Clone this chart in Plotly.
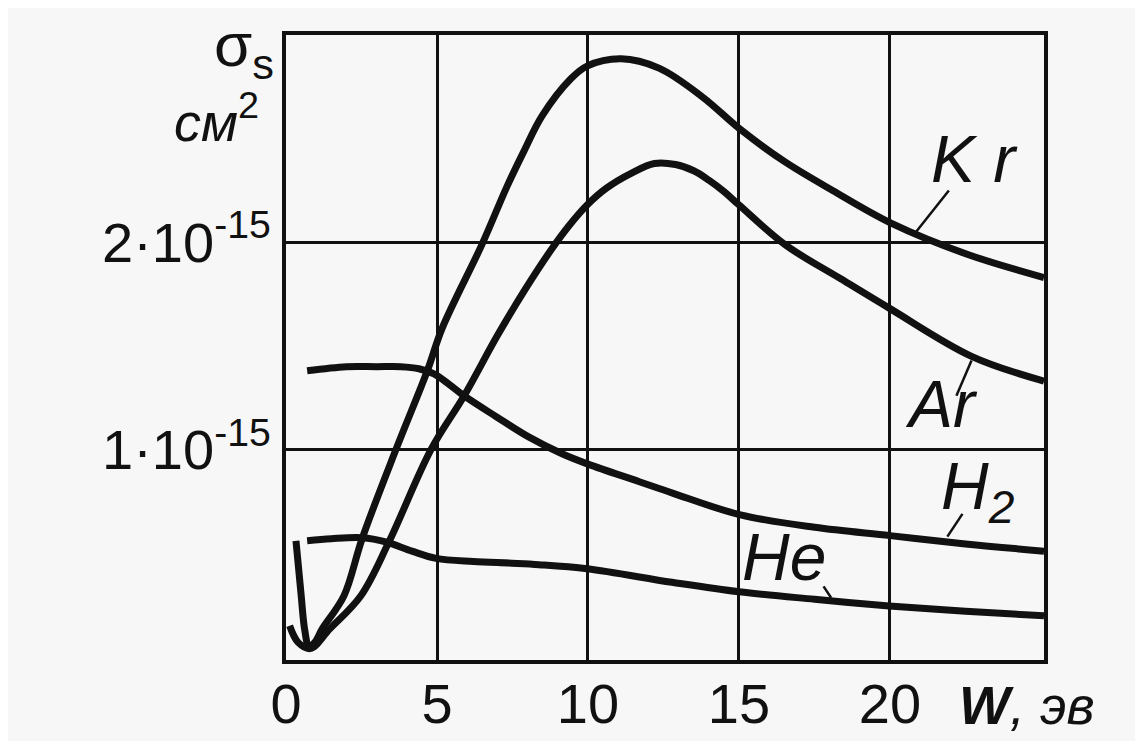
import plotly.graph_objects as go

# ---- data (energy W in eV, cross-section sigma_s in units of 1e-15 cm^2) ----
kr_w = [0.33, 0.5, 0.62, 0.76, 0.95, 1.2, 1.92, 2.52, 3.64, 4.68, 5.17, 6.49, 7.32, 7.88,
        8.48, 9.44, 9.97, 11.1, 12.35, 13.8, 15.0, 16.5, 18.1, 20.07, 22.6, 25.1]
kr_s = [0.56, 0.30, 0.13, 0.05, 0.07, 0.135, 0.295, 0.57, 1.0, 1.38, 1.585, 1.99, 2.27, 2.44,
        2.61, 2.79, 2.85, 2.885, 2.84, 2.70, 2.55, 2.39, 2.25, 2.09, 1.94, 1.83]

ar_w = [0.12, 0.4, 0.8, 1.45, 2.48, 3.41, 4.8, 5.9, 7.0, 7.95, 8.81, 9.37, 9.97, 10.6, 11.46,
        12.2, 12.9, 13.5, 14.0, 14.5, 15.0, 16.56, 18.3, 20.0, 22.7, 25.1]
ar_s = [0.15, 0.07, 0.04, 0.135, 0.295, 0.555, 1.0, 1.26, 1.55, 1.78, 1.97, 2.08, 2.18, 2.26, 2.335,
        2.38, 2.375, 2.345, 2.30, 2.245, 2.18, 1.985, 1.83, 1.68, 1.45, 1.33]

h2_w = [0.7, 2.0, 3.0, 3.8, 4.4, 4.9, 5.4, 5.89, 6.95, 8.05, 9.14, 10.0, 11.7, 12.8, 15.05, 17.5,
        20.0, 22.5, 25.1]
h2_s = [1.38, 1.40, 1.40, 1.40, 1.39, 1.365, 1.315, 1.26, 1.16, 1.06, 0.98, 0.93, 0.845, 0.79,
        0.685, 0.625, 0.585, 0.545, 0.51]

he_w = [0.7, 1.5, 2.52, 3.3, 4.17, 4.97, 6.2, 7.48, 8.38, 9.97, 12.78, 15.0, 17.5, 19.97, 22.5, 25.1]
he_s = [0.56, 0.57, 0.575, 0.555, 0.51, 0.475, 0.46, 0.452, 0.445, 0.425, 0.36, 0.314, 0.278, 0.246,
        0.22, 0.198]

x_tickvals = [0, 5, 10, 15, 20]
x_ticktext = ["0", "5", "10", "15", "20"]
y_tickvals = [1, 2]
y_ticktext = ["1·10<sup>-15</sup>", "2·10<sup>-15</sup>"]

FONT = "Liberation Sans, Arial, sans-serif"
INK = "#111111"
BG = "#f7f7f7"

fig = go.Figure()
for w, s, name in [(kr_w, kr_s, "Kr"), (ar_w, ar_s, "Ar"), (h2_w, h2_s, "H2"), (he_w, he_s, "He")]:
    fig.add_trace(go.Scatter(x=w, y=s, mode="lines", name=name,
                             line=dict(color=INK, width=7, shape="spline", smoothing=1.0),
                             showlegend=False, hoverinfo="skip"))

# curve labels with leader lines
labels = [
    ("<i>K r</i>", 22.8, 2.40, (21.95, 2.25, 20.86, 2.05)),
    ("<i>Ar</i>", 21.7, 1.22, (22.7, 1.43, 22.2, 1.26)),
    ("<i>H<sub>2</sub></i>", 22.9, 0.80, (22.4, 0.69, 21.9, 0.58)),
    ("<i>He</i>", 16.5, 0.48, (17.8, 0.34, 18.05, 0.285)),
]
for txt, lx, ly, (x0, y0, x1, y1) in labels:
    fig.add_annotation(x=lx, y=ly, xref="x", yref="y", text=txt, showarrow=False,
                       font=dict(family=FONT, size=66, color=INK))
    fig.add_shape(type="line", x0=x0, y0=y0, x1=x1, y1=y1, xref="x", yref="y",
                  line=dict(color=INK, width=2.5))

# axis titles (paper coordinates so they are drawn outside the plot area)
fig.add_annotation(x=-0.098, y=0.978, xref="paper", yref="paper", xanchor="left", yanchor="middle",
                   text="σ<sub>s</sub>", showarrow=False,
                   font=dict(family=FONT, size=62, color=INK))
fig.add_annotation(x=-0.15, y=0.868, xref="paper", yref="paper", xanchor="left", yanchor="middle",
                   text="<i>см</i><sup>2</sup>", showarrow=False,
                   font=dict(family=FONT, size=54, color=INK))
fig.add_annotation(x=0.885, y=-0.072, xref="paper", yref="paper", xanchor="left", yanchor="middle",
                   text="<b><i>W</i></b><i>, эв</i>", showarrow=False,
                   font=dict(family=FONT, size=54, color=INK))

fig.update_xaxes(range=[0, 25.1], tickvals=x_tickvals, ticktext=x_ticktext,
                 showgrid=True, gridcolor=INK, gridwidth=3,
                 showline=True, linecolor=INK, linewidth=4, mirror=True,
                 zeroline=False, ticks="", ticklabelstandoff=-8, automargin=False,
                 tickfont=dict(family=FONT, size=56, color=INK))
fig.update_yaxes(range=[-0.015, 3.0], tickvals=y_tickvals, ticktext=y_ticktext,
                 showgrid=True, gridcolor=INK, gridwidth=3,
                 showline=True, linecolor=INK, linewidth=4, mirror=True,
                 zeroline=False, ticks="", ticklabelstandoff=0, automargin=False,
                 tickfont=dict(family=FONT, size=56, color=INK))

# the page body adds an 8px margin, so the figure is sized to fit inside it
fig.update_layout(width=1127, height=733,
                  margin=dict(l=278, r=91, t=27, b=81),
                  paper_bgcolor=BG, plot_bgcolor=BG,
                  font=dict(family=FONT, color=INK))

fig.write_html("out.html")
